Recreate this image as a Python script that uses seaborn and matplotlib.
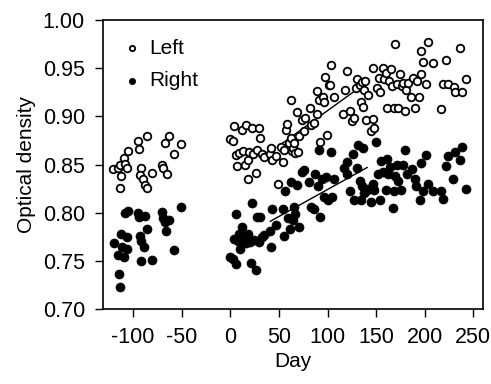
import numpy as np
import pandas as pd
import matplotlib
matplotlib.use("Agg")
import matplotlib.pyplot as plt
import seaborn as sns

# Open circles ("Left")
left_day = [-121, -116, -114, -113, -114, -109, -108, -106, -105, -95, -94, -92, -93, -90, -88,
            -86, -86, -81, -70, -69, -65, -67, -63, -58, -51,
            0, 4, 3, 6, 7, 9, 12, 13, 15, 16, 18, 19, 22, 23, 18, 26, 27, 29, 31, 33, 35,
            41, 42, 43, 47, 49, 52, 54, 55, 57, 58, 60, 62, 63, 62, 65, 66, 67, 69, 70, 71,
            74, 76, 77, 82, 83, 86, 89, 89, 91, 92, 95, 96, 97, 99, 102, 103, 104, 107,
            116, 118, 120, 123, 125, 127, 129, 130, 133, 134, 135, 137, 138, 139, 140, 142,
            145, 147, 148, 147, 151, 153, 154, 157, 158, 160, 161, 163, 165, 166, 168, 169,
            172, 173, 175, 177, 178, 180, 181, 183, 186, 188, 190, 192, 194, 196, 196, 198,
            201, 203, 209, 217, 219, 222, 224, 230, 231, 236, 238, 243]
left_od = [0.845, 0.846, 0.849, 0.838, 0.826, 0.857, 0.851, 0.846, 0.864, 0.874, 0.866, 0.846,
           0.839, 0.835, 0.829, 0.826, 0.880, 0.841, 0.850, 0.846, 0.840, 0.872, 0.880, 0.861,
           0.871,
           0.876, 0.890, 0.874, 0.860, 0.848, 0.862, 0.886, 0.864, 0.850, 0.891, 0.855, 0.863,
           0.888, 0.861, 0.835, 0.841, 0.865, 0.888, 0.878, 0.861, 0.858,
           0.861, 0.867, 0.855, 0.859, 0.830, 0.868, 0.853, 0.865, 0.886, 0.892, 0.872, 0.878,
           0.864, 0.917, 0.867, 0.872, 0.862, 0.905, 0.863, 0.880,
           0.896, 0.885, 0.898, 0.909, 0.891, 0.893, 0.902, 0.926, 0.917, 0.873, 0.920, 0.915,
           0.941, 0.881, 0.933, 0.933, 0.953, 0.920,
           0.902, 0.927, 0.947, 0.906, 0.895, 0.898, 0.929, 0.939, 0.933, 0.915, 0.936, 0.910,
           0.927, 0.937, 0.896, 0.922,
           0.885, 0.897, 0.888, 0.950, 0.929, 0.940, 0.925, 0.950, 0.939, 0.945, 0.909, 0.937,
           0.949, 0.931, 0.909, 0.975,
           0.934, 0.909, 0.944, 0.932, 0.935, 0.906, 0.927, 0.935, 0.920, 0.940, 0.909, 0.937,
           0.920, 0.968, 0.944, 0.956,
           0.934, 0.977, 0.955, 0.908, 0.934, 0.959, 0.934, 0.930, 0.925, 0.971, 0.925, 0.939]

# Filled circles ("Right")
right_day = [-120, -116, -115, -114, -113, -111, -109, -108, -106, -105, -106, -95, -94, -93,
             -92, -92, -89, -88, -86, -81, -70, -69, -67, -66, -63, -58, -51,
             0, 3, 6, 6, 4, 8, 9, 10, 12, 13, 14, 16, 18, 20, 21, 22, 24, 26, 27, 29, 31, 33, 35,
             42, 41, 43, 47, 54, 55, 56, 59, 61, 62, 64, 66, 67, 69, 71, 74, 76, 81, 83, 86, 87,
             90, 91, 92, 94, 96, 98, 100, 104, 105, 107,
             117, 120, 120, 123, 126, 127, 130, 131, 133, 134, 135, 137, 138, 140, 142, 145, 147,
             148, 150, 152, 154, 155, 157, 160, 161, 162, 164, 167, 168, 169, 172, 173, 176, 178,
             180, 182, 187, 190, 191, 195, 196, 198, 201, 203, 209, 217, 219, 222, 224, 229, 231,
             236, 238, 243]
right_od = [0.769, 0.756, 0.736, 0.723, 0.778, 0.764, 0.754, 0.800, 0.775, 0.802, 0.762, 0.800,
            0.795, 0.776, 0.771, 0.750, 0.764, 0.797, 0.783, 0.751, 0.801, 0.794, 0.790, 0.781,
            0.792, 0.761, 0.806,
            0.754, 0.752, 0.747, 0.799, 0.773, 0.771, 0.778, 0.762, 0.785, 0.770, 0.776, 0.768,
            0.778, 0.770, 0.748, 0.810, 0.772, 0.740, 0.796, 0.770, 0.796, 0.775, 0.777,
            0.764, 0.781, 0.804, 0.787, 0.804, 0.776, 0.822, 0.794, 0.783, 0.832, 0.792, 0.806,
            0.799, 0.829, 0.785, 0.842, 0.844, 0.832, 0.806, 0.804, 0.840,
            0.828, 0.865, 0.795, 0.835, 0.816, 0.837, 0.813, 0.863, 0.816, 0.835,
            0.846, 0.853, 0.840, 0.823, 0.861, 0.813, 0.846, 0.870, 0.833, 0.813, 0.828, 0.867,
            0.820, 0.823, 0.825, 0.811, 0.830,
            0.824, 0.873, 0.840, 0.813, 0.854, 0.842, 0.824, 0.856, 0.840, 0.847, 0.805, 0.822,
            0.838, 0.849, 0.833, 0.824, 0.850,
            0.865, 0.840, 0.845, 0.835, 0.828, 0.813, 0.852, 0.823, 0.860, 0.830, 0.822, 0.822,
            0.814, 0.848, 0.859, 0.835, 0.863,
            0.855, 0.868, 0.825]

# Trend lines as drawn in the figure (start / end)
fit_left_day = [48, 129]
fit_left_od = [0.868, 0.927]
fit_right_day = [41, 141]
fit_right_od = [0.791, 0.847]

x_ticks = [-100, -50, 0, 50, 100, 150, 200, 250]
y_ticks = [0.70, 0.75, 0.80, 0.85, 0.90, 0.95, 1.00]

sns.set_style("ticks")
plt.rcParams["font.family"] = ["Liberation Sans", "DejaVu Sans"]
# plain black text like the printed figure
for key in ["text.color", "axes.labelcolor", "xtick.color", "ytick.color", "axes.edgecolor"]:
    plt.rcParams[key] = "black"

left = pd.DataFrame({"Day": left_day, "OD": left_od})
right = pd.DataFrame({"Day": right_day, "OD": right_od})

fig = plt.figure(figsize=(4.91, 3.84), dpi=100)
ax = fig.add_axes([0.2098, 0.1953, 0.7739, 0.7526])

sns.scatterplot(data=left, x="Day", y="OD", ax=ax, marker="o", s=30,
                facecolor="white", edgecolor="black", linewidth=1.3, label="Left", zorder=3)
sns.scatterplot(data=right, x="Day", y="OD", ax=ax, marker="o", s=42,
                color="black", edgecolor="black", linewidth=0.5, label="Right", zorder=3)
sns.lineplot(x=fit_left_day, y=fit_left_od, ax=ax, color="black", linewidth=1.0)
sns.lineplot(x=fit_right_day, y=fit_right_od, ax=ax, color="black", linewidth=1.0)

ax.set_xlim(-131, 260)
ax.set_ylim(0.70, 1.00)
ax.set_xticks(x_ticks)
ax.set_xticklabels([str(t) for t in x_ticks])
ax.set_yticks(y_ticks)
ax.set_yticklabels(["%.2f" % t for t in y_ticks])
ax.tick_params(labelsize=15.5, length=6, width=1, color="black", labelcolor="black", pad=7)
ax.set_xlabel("Day", fontsize=15, labelpad=3)
ax.set_ylabel("Optical density", fontsize=15, labelpad=5)
for sp in ax.spines.values():
    sp.set_visible(True)
    sp.set_linewidth(1.2)
    sp.set_color("black")

leg = ax.legend(loc="upper left", frameon=False, fontsize=15, handletextpad=0.3,
                handlelength=1.0, markerscale=0.7, borderaxespad=0.5, labelspacing=0.65,
                borderpad=0.4)

fig.savefig("out.png", dpi=100)
